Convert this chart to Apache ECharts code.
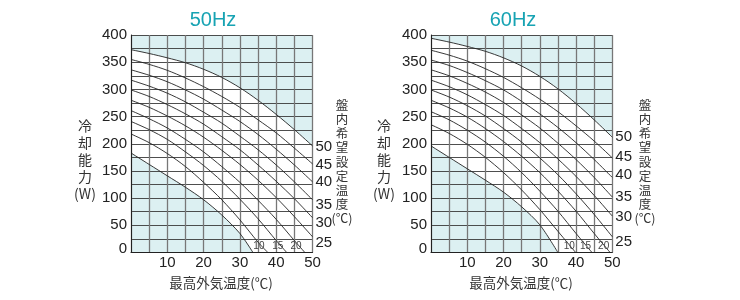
<!DOCTYPE html>
<html><head><meta charset="utf-8">
<script src="https://cdn.jsdelivr.net/npm/echarts@6/dist/echarts.min.js"></script>
<style>html,body{margin:0;padding:0;background:#fff}#c{width:740px;height:300px}</style>
</head><body><div id="c"></div>
<script>
// ---- data ----
const ambientX = [0,5,10,15,20,25,30,35,40,45,50];
const setpointNames = ['50','45','40','35','30','25','20','15','10',''];
const xTicks = [10,20,30,40,50];
const yTicks = [0,50,100,150,200,250,300,350,400];

// 50Hz cooling capacity (W) per set temperature, at ambientX
const hz50_s50 = [373,366,358,349,337,322,303,280,254,226,196];
const hz50_s45 = [355,346,335,321,305,287,267,244,220,192,163];
const hz50_s40 = [336,326,314,299,282,262,241,217,190,161,130];
const hz50_s35 = [317,306,293,277,258,238,214,189,161,130,97];
const hz50_s30 = [299,287,272,255,236,213,189,161,131,99,64];
const hz50_s25 = [280,267,251,233,212,188,162,133,101,66,29];
const hz50_s20 = [261,246,229,208,185,158,129,96,61,22];
const hz50_s15 = [241,226,208,185,160,131,98,62,22];
const hz50_s10 = [218,202,182,158,129,97,60,19];
const hz50_low = [183,162,141,120,97,69,35];
const hz50_zeroX = [null,null,null,null,null,null,47.9,42.9,37.7,33.6];

// 60Hz
const hz60_s50 = [394,387,379,370,358,343,324,301,274,244,212];
const hz60_s45 = [372,363,352,338,322,303,282,259,233,205,174];
const hz60_s40 = [354,344,331,316,299,278,255,230,202,171,138];
const hz60_s35 = [336,325,311,295,276,253,229,201,171,138,102];
const hz60_s30 = [317,305,290,272,252,228,202,172,140,105,67];
const hz60_s25 = [299,286,270,251,228,203,174,143,108,70,29];
const hz60_s20 = [280,266,249,228,204,177,147,113,76,35];
const hz60_s15 = [259,244,225,203,177,147,113,76,35];
const hz60_s10 = [235,219,199,175,147,115,79,39];
const hz60_low = [196,175,154,133,111,84,51];
const hz60_zeroX = [null,null,null,null,null,null,49.4,44.4,39.9,35];

// ---- styles ----
const BLUE = '#dcf0f2';
const TEAL = '#17a3b3';
const NUM_FONT = '"Liberation Sans", Arial, Helvetica, sans-serif';
const CJK_FONT = '"Noto Sans CJK JP", "Noto Sans", sans-serif';
const rightLabelNudge = [[1,1,0,5,5,6],[0,-1,-3,0,1,5]];
const bottomLabelOffset = [[-14.5,-6.5],[-12,-6.5]];

function pairs(vals, zx) {
  const d = vals.map((v,i) => [ambientX[i], v]);
  if (zx != null) d.push([zx, 0]);
  return d;
}

const charts = [
  {curves:[hz50_s50,hz50_s45,hz50_s40,hz50_s35,hz50_s30,hz50_s25,hz50_s20,hz50_s15,hz50_s10,hz50_low], zero: hz50_zeroX, left:131, width:181.5},
  {curves:[hz60_s50,hz60_s45,hz60_s40,hz60_s35,hz60_s30,hz60_s25,hz60_s20,hz60_s15,hz60_s10,hz60_low], zero: hz60_zeroX, left:431, width:181.3}
];

const SMOOTH = 0.3;
const grid = [], xAxis = [], yAxis = [], series = [];
charts.forEach((c, gi) => {
  grid.push({left:c.left, top:35, width:c.width, height:217.5});
  xAxis.push({
    gridIndex:gi, type:'value', min:0, max:50, interval:5, z:2,
    axisLine:{show:true, lineStyle:{color:'#222', width:1}},
    axisTick:{show:false},
    axisLabel:{margin:3, fontSize:15, color:'#222', fontFamily:NUM_FONT,
      formatter: v => xTicks.includes(v) ? String(v) : ''},
    splitLine:{show:true, lineStyle:{color:'#777', width:1.3}}
  });
  yAxis.push({
    gridIndex:gi, type:'value', min:0, max:400, interval:25, z:2,
    axisLine:{show:true, lineStyle:{color:'#222', width:1}},
    axisTick:{show:false},
    axisLabel:{margin:4, fontSize:15, color:'#222', fontFamily:NUM_FONT,
      formatter: v => v === 0 ? '{z|0}' : (yTicks.includes(v) ? String(v) : ''),
      rich:{z:{fontSize:15, color:'#222', fontFamily:NUM_FONT, padding:[0,0,8,0]}}},
    splitLine:{show:true, lineStyle:{color:'#3a3a3a', width:0.9}}
  });
  const n = c.curves.length;
  // shaded regions
  series.push({type:'line', xAxisIndex:gi, yAxisIndex:gi, data:pairs(c.curves[0], c.zero[0]),
    smooth:SMOOTH, symbol:'none', z:1, silent:true, lineStyle:{width:0},
    areaStyle:{origin:'end', color:BLUE, opacity:1}});
  series.push({type:'line', xAxisIndex:gi, yAxisIndex:gi, data:pairs(c.curves[n-1], c.zero[n-1]),
    smooth:SMOOTH, symbol:'none', z:1, silent:true, lineStyle:{width:0},
    areaStyle:{origin:'start', color:BLUE, opacity:1}});
  c.curves.forEach((vals, k) => {
    const name = setpointNames[k];
    let endLabel = {show:false};
    if (name && c.zero[k] == null) {
      endLabel = {show:true, formatter:name, fontSize:15, color:'#222', fontFamily:NUM_FONT,
        distance:3, offset:[0, rightLabelNudge[gi][k]]};
    } else if (name) {
      endLabel = {show:true, formatter:name, fontSize:10, color:'#444', fontFamily:NUM_FONT,
        distance:0, offset:bottomLabelOffset[gi]};
    }
    series.push({type:'line', name:name || 'limit', xAxisIndex:gi, yAxisIndex:gi,
      data:pairs(vals, c.zero[k]), smooth:SMOOTH, symbol:'none', z:3, silent:true,
      lineStyle:{color:'#222', width:0.9}, endLabel});
  });
});

function vtext(x, y, text, size, lh) {
  return {type:'text', x, y, style:{text, fill:'#333', font: size + 'px ' + CJK_FONT,
    align:'center', verticalAlign:'top', lineHeight:lh}};
}

const graphic = [
  {type:'text', x:213, y:20, style:{text:'50Hz', fill:TEAL, font:'20px ' + NUM_FONT, align:'center', verticalAlign:'middle'}},
  {type:'text', x:513, y:20, style:{text:'60Hz', fill:TEAL, font:'20px ' + NUM_FONT, align:'center', verticalAlign:'middle'}},
  vtext(85, 117, '冷\n却\n能\n力\n(W)', 14, 17),
  vtext(384, 117, '冷\n却\n能\n力\n(W)', 14, 17),
  vtext(342, 98, '盤\n内\n希\n望\n設\n定\n温\n度\n(℃)', 12.5, 14.2),
  vtext(645, 98, '盤\n内\n希\n望\n設\n定\n温\n度\n(℃)', 12.5, 14.2),
  {type:'text', x:221, y:283, style:{text:'最高外気温度(℃)', fill:'#333', font:'13.5px ' + CJK_FONT, align:'center', verticalAlign:'middle'}},
  {type:'text', x:521, y:283, style:{text:'最高外気温度(℃)', fill:'#333', font:'13.5px ' + CJK_FONT, align:'center', verticalAlign:'middle'}}
];

const chart = echarts.init(document.getElementById('c'), null, {renderer:'canvas'});
chart.setOption({animation:false, backgroundColor:'#fff', grid, xAxis, yAxis, series, graphic});
</script>
</body></html>
